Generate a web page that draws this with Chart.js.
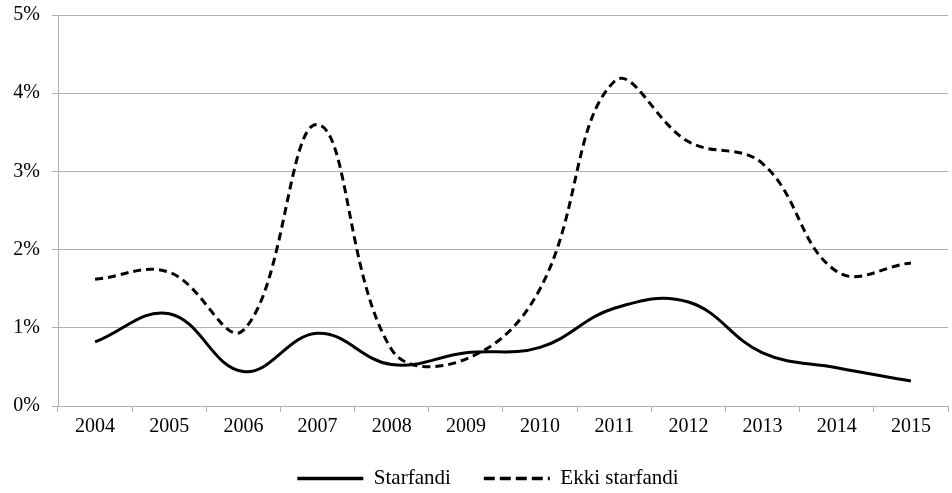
<!DOCTYPE html>
<html><head><meta charset="utf-8">
<script src="https://cdn.jsdelivr.net/npm/chart.js@4/dist/chart.umd.min.js"></script>
<style>html,body{margin:0;padding:0;background:#fff}#wrap{width:952px;height:493px;position:relative}</style>
</head><body><div id="wrap"><canvas id="c"></canvas></div>
<script>
const years = ['2004','2005','2006','2007','2008','2009','2010','2011','2012','2013','2014','2015'];
const starfandi = [0.82,1.18,0.44,0.93,0.53,0.68,0.75,1.25,1.33,0.68,0.49,0.32];
const ekkiStarfandi = [1.62,1.71,0.97,3.6,0.72,0.6,1.5,4.15,3.38,3.1,1.72,1.83];
const seriesNames = ['Starfandi','Ekki starfandi'];
const yTicks = [0,1,2,3,4,5];

Chart.defaults.font.family = "'Liberation Serif','Times New Roman',serif";
Chart.defaults.font.size = 20;
Chart.defaults.color = '#000';

const legendShift = {
  id: 'legendShift',
  afterLayout(chart) {
    const l = chart.legend;
    if (l) { l.left += 14; l.right += 14; }
  }
};

new Chart(document.getElementById('c'), {
  type: 'line',
  data: {
    labels: years,
    datasets: [
      {label: seriesNames[0], data: starfandi, borderColor:'#000', backgroundColor:'#000', borderWidth:3, pointRadius:0, pointStyle:'line', tension:0.4},
      {label: seriesNames[1], data: ekkiStarfandi, borderColor:'#000', backgroundColor:'#000', borderWidth:3, borderDash:[8,5], pointRadius:0, pointStyle:'line', tension:0.4}
    ]
  },
  plugins: [legendShift],
  options: {
    responsive:true, maintainAspectRatio:false, animation:false,
    layout:{padding:{top:15,right:4,left:0,bottom:-6}},
    plugins:{
      tooltip:{enabled:false},
      legend:{position:'bottom', labels:{
        usePointStyle:true, pointStyleWidth:66, boxHeight:3, padding:33, color:'#000',
        font:{size:21},
        generateLabels:(chart)=>{
          const items = Chart.defaults.plugins.legend.labels.generateLabels(chart);
          items.forEach(it=>{
            const ds = chart.data.datasets[it.datasetIndex];
            it.lineDash = ds.borderDash ? [11,5] : [];
            it.lineWidth = 3.5;
            it.strokeStyle = '#000';
            it.pointStyle = 'line';
          });
          return items;
        }
      }}
    },
    scales:{
      x:{
        offset:true,
        grid:{offset:true, drawOnChartArea:false, tickLength:6, color:'#b0b0b0'},
        border:{color:'#b0b0b0'},
        ticks:{padding:3, maxRotation:0},
        afterFit:s=>{s.height=29; s.paddingLeft=0; s.paddingRight=0;}
      },
      y:{
        min:0, max:5,
        afterBuildTicks:s=>{s.ticks=yTicks.map(v=>({value:v}));},
        grid:{color:'#b0b0b0', tickLength:6},
        border:{color:'#b0b0b0'},
        ticks:{padding:12, callback:v=>v+'%'},
        afterFit:s=>{s.width=58; s.paddingTop=0; s.paddingBottom=0;}
      }
    }
  }
});
</script></body></html>
